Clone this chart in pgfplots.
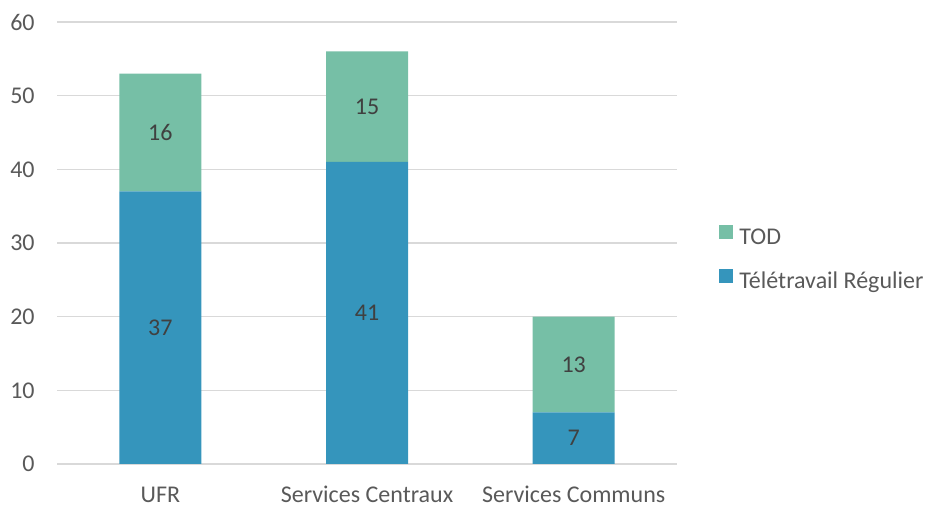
\documentclass[border=0pt]{standalone}
\usepackage{pgfplots}
\pgfplotsset{compat=1.18}
\usepackage{fontspec}
\setmainfont{Carlito}
\definecolor{cblue}{HTML}{3595BC}
\definecolor{cgreen}{HTML}{76BFA6}
\definecolor{ctext}{HTML}{595959}
\definecolor{clab}{HTML}{404040}
\definecolor{cgrid}{HTML}{D9D9D9}
\begin{document}
\fontsize{12}{14}\selectfont
\begin{tikzpicture}
\useasboundingbox (0,0) rectangle (465pt,261.5pt);
\begin{axis}[
 at={(28.5pt,29.5pt)}, anchor=south west,
 scale only axis, width=310pt, height=221pt,
 ybar stacked, bar width=41pt,
 xmin=-0.5, xmax=2.5, ymin=0, ymax=60,
 xtick={0,1,2}, xticklabels={UFR, Services Centraux, Services Communs},
 ytick={0,10,...,60},
 ymajorgrids, grid style={cgrid, line width=0.75pt},
 axis line style={draw=none},
 major tick style={draw=none},
 /pgf/number format/assume math mode=true,
 ticklabel style={font=\fontsize{12}{14}\selectfont, text=ctext},
 yticklabel style={anchor=east, inner sep=0pt, xshift=-11pt},
 xticklabel style={anchor=base, inner sep=0pt, yshift=-19.5pt},
 point meta=rawy,
 nodes near coords,
 every node near coord/.append style={anchor=center, font=\fontsize{12}{14}\selectfont, text=clab},
 reverse legend,
 legend style={at={(1.0677,0.462)}, anchor=west, draw=none, fill=none, inner sep=0pt,
   row sep=9pt, column sep=3pt,
   nodes={inner sep=0pt, text height=9pt, text depth=3pt, text=ctext, font=\fontsize{12}{14}\selectfont},
   cells={anchor=west}},
 legend image code/.code={\fill[#1,draw=none] (0pt,0pt) rectangle (7pt,7pt);},
 clip=false,
]
\addplot[fill=cblue, draw=none] coordinates {(0,37) (1,41) (2,7)};
\addlegendentry{Télétravail Régulier}
\addplot[fill=cgreen, draw=none] coordinates {(0,16) (1,15) (2,13)};
\addlegendentry{TOD}
\end{axis}
\end{tikzpicture}
\end{document}
